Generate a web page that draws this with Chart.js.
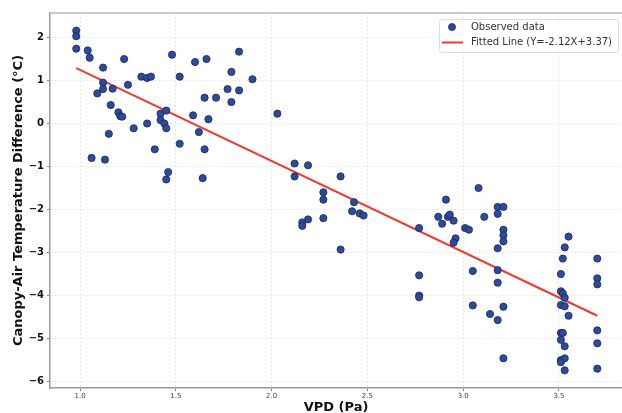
<!DOCTYPE html>
<html>
<head>
<meta charset="utf-8">
<script src="https://cdn.jsdelivr.net/npm/chart.js@4.4.0/dist/chart.umd.min.js"></script>
<style>
  html, body { margin: 0; padding: 0; background: #fff; }
  #wrap { width: 622px; height: 413px; }
</style>
</head>
<body>
<div id="wrap"><canvas id="myChart" width="622" height="413"></canvas></div>
<script>
// observed points (VPD, temperature difference)
let vpd = [
  0.98, 0.98, 0.98, 1.04, 1.05, 1.12, 1.23, 1.12, 1.12, 1.09,
  1.17, 1.25, 1.32, 1.35, 1.37, 1.16, 1.20, 1.21, 1.22, 1.28,
  1.35, 1.15, 1.06, 1.13, 1.39, 1.42, 1.45, 1.42, 1.44, 1.45,
  1.46, 1.45, 1.48, 1.52, 1.52, 1.60, 1.66, 1.65, 1.71, 1.59,
  1.62, 1.67, 1.65, 1.64, 1.83, 1.79, 1.90, 1.77, 1.83, 1.79,
  2.03, 2.12, 2.19, 2.12, 2.36, 2.27, 2.27, 2.43, 2.42, 2.46,
  2.48, 2.19, 2.16, 2.16, 2.27, 2.36,
  2.77, 2.77, 2.77, 2.77, 2.91, 2.87, 2.89, 2.92, 2.93, 2.95,
  2.96, 2.95, 3.01, 3.03, 3.08, 3.11, 3.18, 3.21, 3.18, 3.21,
  3.21, 3.21, 3.18, 3.05, 3.18, 3.18, 3.05, 3.14, 3.18, 3.21,
  3.21,
  3.55, 3.53, 3.52, 3.51, 3.51, 3.52, 3.53, 3.51, 3.53, 3.55,
  3.51, 3.52, 3.51, 3.53, 3.51, 3.53, 3.51, 3.53,
  3.70, 3.70, 3.70, 3.70, 3.70, 3.70
];
let tempDiff = [
  2.16, 2.03, 1.74, 1.70, 1.53, 1.30, 1.50, 0.95, 0.80, 0.70,
  0.81, 0.90, 1.09, 1.06, 1.09, 0.43, 0.26, 0.17, 0.16, -0.11,
  0.00, -0.24, -0.80, -0.84, -0.60, 0.23, 0.30, 0.08, 0.00, -0.11,
  -1.13, -1.30, 1.60, 1.09, -0.47, 1.43, 1.50, 0.60, 0.60, 0.19,
  -0.20, 0.10, -0.60, -1.27, 1.67, 1.20, 1.03, 0.80, 0.77, 0.50,
  0.23, -0.93, -0.97, -1.23, -1.23, -1.60, -1.77, -1.83, -2.04, -2.09,
  -2.14, -2.23, -2.30, -2.38, -2.20, -2.93,
  -2.43, -3.53, -4.00, -4.04, -1.77, -2.17, -2.33, -2.17, -2.12, -2.26,
  -2.67, -2.77, -2.43, -2.47, -1.50, -2.17, -1.94, -1.94, -2.10, -2.47,
  -2.60, -2.74, -2.90, -3.43, -3.41, -3.70, -4.23, -4.43, -4.57, -4.26,
  -5.46,
  -2.63, -2.88, -3.14, -3.50, -3.90, -3.95, -4.05, -4.22, -4.25, -4.47,
  -4.87, -4.87, -5.03, -5.18, -5.50, -5.46, -5.55, -5.74,
  -3.14, -3.60, -3.74, -4.81, -5.11, -5.70
];

// fitted line end points
let fitX = [0.98, 3.70];
let fitY = [1.29, -4.47];

let xTicks = [1.0, 1.5, 2.0, 2.5, 3.0, 3.5];
let yTicks = [-6, -5, -4, -3, -2, -1, 0, 1, 2];

let pointFill = '#2c4b9e';
let pointEdge = '#1b2754';
let lineRed = '#f2392c';
let font = 'DejaVu Sans';

// frame line on top and the legend box
const framePlugin = {
  id: 'frame',
  afterDraw(chart) {
    const c = chart.ctx;
    const a = chart.chartArea;
    c.save();
    c.strokeStyle = '#c9c9c9';
    c.lineWidth = 2;
    c.beginPath();
    c.moveTo(a.left, a.top);
    c.lineTo(a.right, a.top);
    c.stroke();

    // legend
    const bx = 439.5, by = 19.5, bw = 179, bh = 33;
    c.fillStyle = 'rgba(255,255,255,0.85)';
    c.strokeStyle = '#dcdcdc';
    c.lineWidth = 1;
    c.beginPath();
    c.roundRect(bx, by, bw, bh, 3);
    c.fill();
    c.stroke();

    c.fillStyle = pointFill;
    c.strokeStyle = pointEdge;
    c.lineWidth = 0.8;
    c.beginPath();
    c.arc(452, 27, 3.5, 0, Math.PI * 2);
    c.fill();
    c.stroke();

    c.strokeStyle = lineRed;
    c.lineWidth = 2;
    c.beginPath();
    c.moveTo(442, 42.5);
    c.lineTo(463, 42.5);
    c.stroke();

    c.fillStyle = '#333';
    c.font = '10px "' + font + '"';
    c.textBaseline = 'middle';
    c.fillText('Observed data', 471, 27);
    c.fillText('Fitted Line (Y=-2.12X+3.37)', 471, 42.5);
    c.restore();
  }
};

let ctx = document.getElementById('myChart').getContext('2d');
let myChart = new Chart(ctx, {
  type: 'scatter',
  data: {
    datasets: [
      {
        label: 'Observed data',
        data: vpd.map((v, i) => ({ x: v, y: tempDiff[i] })),
        backgroundColor: pointFill,
        borderColor: pointEdge,
        borderWidth: 0.8,
        pointRadius: 3.6,
        pointHoverRadius: 3.6,
      },
      {
        type: 'line',
        label: 'Fitted Line (Y=-2.12X+3.37)',
        data: fitX.map((v, i) => ({ x: v, y: fitY[i] })),
        borderColor: lineRed,
        borderWidth: 2,
        pointRadius: 0,
        fill: false,
      },
    ],
  },
  options: {
    responsive: false,
    animation: false,
    devicePixelRatio: 1,
    layout: { autoPadding: false, padding: { top: 13, left: 0, right: 0, bottom: 0 } },
    plugins: {
      legend: { display: false },
      tooltip: { enabled: false },
    },
    scales: {
      x: {
        type: 'linear',
        min: 0.843,
        max: 3.829,
        afterFit: (s) => {
          s.height = 25;
          s.paddingLeft = 0;
          s.paddingRight = 0;
        },
        afterBuildTicks: (s) => { s.ticks = xTicks.map((v) => ({ value: v })); },
        ticks: {
          includeBounds: false,
          padding: 1,
          color: '#444',
          font: { family: font, size: 7 },
          callback: (v) => Number(v).toFixed(1),
        },
        grid: { color: 'rgba(0,0,0,0.09)', tickLength: 3, tickColor: '#888' },
        border: { color: '#9a9a9a', width: 1.5, dash: [2, 2] },
        title: {
          display: true,
          text: 'VPD (Pa)',
          color: '#111',
          font: { family: font, size: 13, weight: 'bold', lineHeight: 0.8 },
          padding: 0,
        },
      },
      y: {
        type: 'linear',
        min: -6.15,
        max: 2.57,
        afterFit: (s) => {
          s.width = 50;
          s.paddingTop = 0;
          s.paddingBottom = 0;
        },
        afterBuildTicks: (s) => { s.ticks = yTicks.map((v) => ({ value: v })); },
        ticks: {
          includeBounds: false,
          padding: 3,
          color: '#111',
          font: { family: font, size: 10, weight: 'bold' },
          callback: (v) => (v < 0 ? '\u2212' + Math.abs(v) : String(v)),
        },
        grid: { color: 'rgba(0,0,0,0.09)', tickLength: 3, tickColor: '#888' },
        border: { color: '#9a9a9a', width: 1.5, dash: [2, 2] },
        title: {
          display: true,
          text: 'Canopy-Air Temperature Difference (°C)',
          color: '#111',
          font: { family: font, size: 13, weight: 'bold', lineHeight: 1.2 },
          padding: { top: 11, bottom: 0 },
        },
      },
    },
  },
  plugins: [framePlugin],
});
</script>
</body>
</html>
